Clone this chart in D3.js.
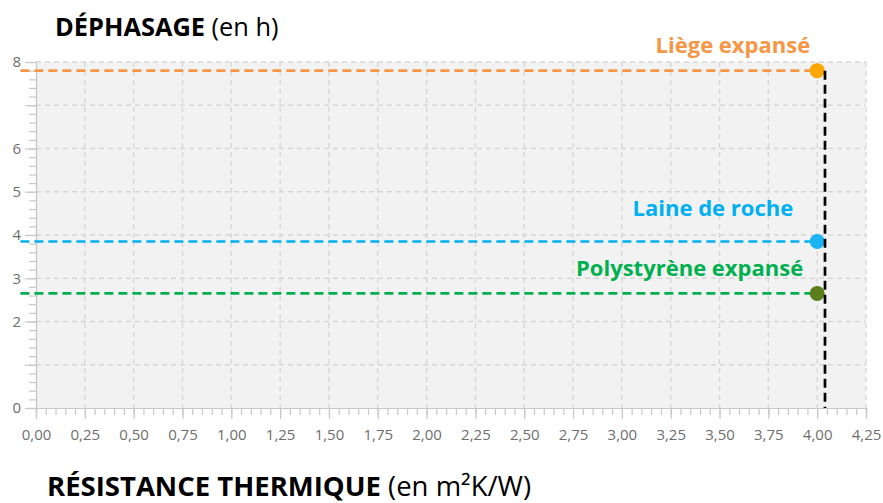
<!DOCTYPE html>
<html>
<head>
<meta charset="utf-8">
<script src="https://cdn.jsdelivr.net/npm/d3@7"></script>
<style>
  body { margin: 0; background: #fff; }
  text { font-family: "Open Sans", "DejaVu Sans", sans-serif; }
</style>
</head>
<body>
<div id="chart"></div>
<script>
var svgWidth = 883;
var svgHeight = 503;

var margin = { top: 62, right: 17, bottom: 95, left: 36 };
var width = svgWidth - margin.left - margin.right;
var height = svgHeight - margin.top - margin.bottom;

// data
var materials = ["Liège expansé", "Laine de roche", "Polystyrène expansé"];
var resistance = [4.0, 4.0, 4.0];
var dephasage = [7.8, 3.85, 2.65];
var lineColors = ["#f79646", "#00b0f0", "#00b050"];
var dotColors = ["#ffa500", "#1ab4f5", "#5b7d1c"];
var refLineX = 4.04;
var xTicks = [0, 0.25, 0.5, 0.75, 1, 1.25, 1.5, 1.75, 2, 2.25, 2.5, 2.75, 3, 3.25, 3.5, 3.75, 4, 4.25];
var yTicks = [0, 1, 2, 3, 4, 5, 6, 7, 8];
var yLabels = [0, 2, 3, 4, 5, 6, 8];

// label placement relative to each point (px)
var labelShift = [[-7, -18], [-24, -25], [-14, -17]];

var svg = d3.select("#chart")
  .append("svg")
  .attr("width", svgWidth)
  .attr("height", svgHeight);

var chartGroup = svg.append("g")
  .attr("transform", `translate(${margin.left}, ${margin.top})`);

var x = d3.scaleLinear().domain([0, 4.25]).range([0, width]);
var y = d3.scaleLinear().domain([0, 8]).range([height, 0]);

// plot background
chartGroup.append("rect")
  .attr("width", width)
  .attr("height", height)
  .attr("fill", "#f2f2f2");

// grid
chartGroup.selectAll(".vgrid")
  .data(xTicks.slice(1))
  .enter()
  .append("line")
  .attr("x1", d => x(d)).attr("x2", d => x(d))
  .attr("y1", 0).attr("y2", height)
  .attr("stroke", "#d6d6d6")
  .attr("stroke-width", 1.3)
  .attr("stroke-dasharray", "5,4");

chartGroup.selectAll(".hgrid")
  .data(yTicks.slice(1))
  .enter()
  .append("line")
  .attr("x1", 0).attr("x2", width)
  .attr("y1", d => y(d)).attr("y2", d => y(d))
  .attr("stroke", "#d6d6d6")
  .attr("stroke-width", 1.3)
  .attr("stroke-dasharray", "5,4");

// minor ticks
var xMinor = d3.range(0, 4.25001, 0.05);
var yMinor = d3.range(0, 8.0001, 0.2);

var xAxis = chartGroup.append("g")
  .attr("transform", `translate(0, ${height})`);
xAxis.call(d3.axisBottom(x).tickValues(xMinor).tickSize(7).tickFormat(""));
xAxis.append("g").call(d3.axisBottom(x).tickValues(xTicks).tickSize(11)
  .tickFormat(d => d3.format(".2f")(d).replace(".", ",")));

var yAxis = chartGroup.append("g");
yAxis.call(d3.axisLeft(y).tickValues(yMinor).tickSize(7).tickFormat(""));
yAxis.append("g").call(d3.axisLeft(y).tickValues(yTicks).tickSize(11)
  .tickFormat(d => yLabels.indexOf(d) >= 0 ? d : ""));

chartGroup.selectAll(".domain").attr("stroke", "#c8c8c8").attr("stroke-width", 1.2);
chartGroup.selectAll(".tick line").attr("stroke", "#c8c8c8").attr("stroke-width", 1.2);
xAxis.selectAll(".tick text")
  .attr("fill", "#6e6e6e")
  .attr("font-size", "15px")
  .attr("dy", "1.2em");
yAxis.selectAll(".tick text")
  .attr("fill", "#6e6e6e")
  .attr("font-size", "15px")
  .attr("x", -15);

// dashed level lines
chartGroup.selectAll(".level")
  .data(materials)
  .enter()
  .append("line")
  .attr("x1", x(-0.08))
  .attr("x2", (d, i) => x(resistance[i]))
  .attr("y1", (d, i) => y(dephasage[i]))
  .attr("y2", (d, i) => y(dephasage[i]))
  .attr("stroke", (d, i) => lineColors[i])
  .attr("stroke-width", 2.7)
  .attr("stroke-dasharray", "9,5");

// points
chartGroup.selectAll(".dot")
  .data(materials)
  .enter()
  .append("circle")
  .attr("cx", (d, i) => x(resistance[i]))
  .attr("cy", (d, i) => y(dephasage[i]))
  .attr("r", 7.5)
  .attr("fill", (d, i) => dotColors[i]);

// reference vertical line
chartGroup.append("line")
  .attr("x1", x(refLineX)).attr("x2", x(refLineX))
  .attr("y1", y(d3.max(dephasage))).attr("y2", y(0))
  .attr("stroke", "#000")
  .attr("stroke-width", 2.7)
  .attr("stroke-dasharray", "9,5");

// material labels
chartGroup.selectAll(".lbl")
  .data(materials)
  .enter()
  .append("text")
  .attr("x", (d, i) => x(resistance[i]) + labelShift[i][0])
  .attr("y", (d, i) => y(dephasage[i]) + labelShift[i][1])
  .attr("text-anchor", "end")
  .attr("font-size", "22px")
  .attr("font-weight", "bold")
  .attr("fill", (d, i) => lineColors[i])
  .text(d => d);

// titles
var t1 = svg.append("text")
  .attr("x", 55).attr("y", 36)
  .attr("font-size", "25.4px")
  .attr("fill", "#000");
t1.append("tspan").attr("font-weight", "bold").text("DÉPHASAGE");
t1.append("tspan").text(" (en h)");

var t2 = svg.append("text")
  .attr("x", 47).attr("y", 496)
  .attr("font-size", "27.5px")
  .attr("fill", "#000");
t2.append("tspan").attr("font-weight", "bold").text("RÉSISTANCE THERMIQUE");
t2.append("tspan").text(" (en m²K/W)");
</script>
</body>
</html>
